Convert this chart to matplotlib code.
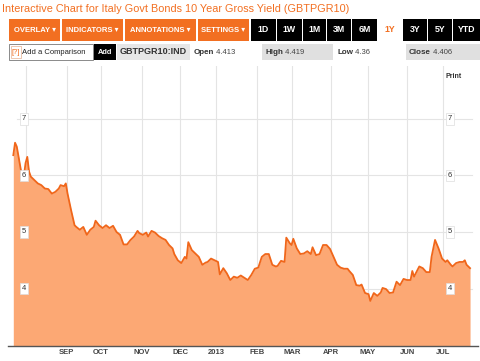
import matplotlib
matplotlib.use("Agg")
import matplotlib.pyplot as plt
from matplotlib.patches import Rectangle
from matplotlib.transforms import blended_transform_factory

plt.rcParams['font.family'] = ['Liberation Sans', 'DejaVu Sans']

# trading day (0 ~ 23 Jul 2012) and yield
days = [0, 1, 2, 4, 5, 6, 7, 8, 9, 10, 12, 14, 16, 18, 20, 22, 24, 26, 27, 29,
        30, 31, 33, 35, 36, 38, 40, 42, 44, 46, 47, 49, 51, 53, 55, 57,
        59, 61, 63, 65, 67, 69, 71, 72, 74, 76, 77, 79, 81, 83, 85, 87, 89, 91,
        92, 94, 96, 98, 99, 100, 102, 104, 106, 108, 110, 111, 113, 115, 117, 118,
        120, 122, 124, 126, 128, 130, 132, 134, 136, 138, 140, 142, 144, 146, 148,
        150, 151, 153, 155, 156, 158, 159, 160, 162, 164, 166, 168, 170, 171, 173,
        175, 177, 179, 181, 183, 185, 187, 189, 191, 192, 194, 196, 198, 199, 201,
        203, 204, 206, 208, 210, 211, 213, 215, 217, 219, 221, 223, 225, 227, 228,
        229, 231, 232, 234, 236, 238, 239, 240, 241, 243, 245, 247, 248, 250, 251,
        253, 255, 257, 258, 259, 261]
yields = [6.36, 6.58, 6.51, 6.16, 5.98, 5.98, 6.22, 6.33, 6.07, 5.98, 5.92, 5.86, 5.83, 5.77, 5.76, 5.68, 5.71, 5.77, 5.83, 5.81,
          5.86, 5.68, 5.39, 5.12, 5.09, 5.04, 5.09, 4.95, 5.04, 5.09, 5.20, 5.12, 5.07, 5.12, 5.07, 5.11,
          5.00, 4.95, 4.78, 4.78, 4.86, 4.92, 5.02, 4.98, 4.95, 4.99, 4.92, 5.02, 4.99, 4.93, 4.89, 4.86, 4.77, 4.71,
          4.61, 4.50, 4.45, 4.56, 4.53, 4.82, 4.68, 4.62, 4.56, 4.42, 4.46, 4.47, 4.53, 4.50, 4.47, 4.25,
          4.36, 4.27, 4.15, 4.21, 4.19, 4.23, 4.19, 4.15, 4.24, 4.35, 4.37, 4.56, 4.61, 4.61, 4.42,
          4.39, 4.40, 4.49, 4.47, 4.90, 4.80, 4.77, 4.88, 4.71, 4.61, 4.62, 4.66, 4.61, 4.73, 4.59,
          4.61, 4.77, 4.77, 4.70, 4.56, 4.42, 4.37, 4.35, 4.35, 4.31, 4.24, 4.06, 4.05, 4.07, 3.92,
          3.90, 3.78, 3.92, 3.87, 3.93, 4.01, 3.99, 3.92, 3.93, 4.12, 4.06, 4.17, 4.15, 4.15, 4.31,
          4.21, 4.33, 4.39, 4.36, 4.29, 4.29, 4.56, 4.71, 4.86, 4.71, 4.53, 4.47, 4.50, 4.42, 4.39,
          4.45, 4.47, 4.47, 4.50, 4.42, 4.36]

month_days = [7, 30.5, 50, 73.5, 95.5, 116, 139.5, 159.5, 181.5, 202.5, 225, 245.5]
month_labels = ['', 'SEP', 'OCT', 'NOV', 'DEC', '2013', 'FEB', 'MAR', 'APR', 'MAY', 'JUN', 'JUL']
y_ticks = [4, 5, 6, 7]

title = "Interactive Chart for Italy Govt Bonds 10 Year Gross Yield (GBTPGR10)"
menu_labels = ['OVERLAY \u25be', 'INDICATORS \u25be', 'ANNOTATIONS \u25be', 'SETTINGS \u25be']
range_labels = ['1D', '1W', '1M', '3M', '6M', '1Y', '3Y', '5Y', 'YTD']
active_range = '1Y'
ticker = 'GBTPGR10:IND'
quote_names = ['Open', 'High', 'Low', 'Close']
quote_values = ['4.413', '4.419', '4.36', '4.406']

ORANGE = '#F26F21'
LINE = '#F0661A'
FILL = '#FCA874'
GRID = '#e4e4e4'

W, H = 480, 361
fig = plt.figure(figsize=(W / 100, H / 100), dpi=100)

# ---- chart
ax = fig.add_axes([8 / W, (H - 346) / H, 470 / W, 280 / H])
ax.set_xlim((8 - 13.3) / 1.75, (478 - 13.3) / 1.75)
ax.set_ylim(4 - (346 - 288.5) / 56.5, 4 + (288.5 - 66) / 56.5)
ybot = ax.get_ylim()[0]

for d in month_days:
    ax.axvline(d, color=GRID, lw=0.8, zorder=0)
for t in y_ticks:
    ax.axhline(t, xmin=9 / 470, xmax=464 / 470, color=GRID, lw=0.8, zorder=0)

ax.fill_between(days, yields, ybot, color=FILL, lw=0, zorder=1)
ax.plot(days, yields, color=LINE, lw=1.3, zorder=2)

for s in ['top', 'left', 'right']:
    ax.spines[s].set_visible(False)
ax.spines['bottom'].set_color('#555555')
ax.spines['bottom'].set_linewidth(1)
ax.set_xticks([])
ax.set_yticks([])

tx = blended_transform_factory(ax.transData, ax.transAxes)
for d, lab in zip(month_days, month_labels):
    ax.text(d, -0.022, lab, transform=tx, ha='center', va='center',
            fontsize=5.5, fontweight='bold', color='#444444')

ty = blended_transform_factory(ax.transAxes, ax.transData)
box = dict(boxstyle='square,pad=0.3', fc='white', ec='#dddddd', lw=0.5)
for t in y_ticks:
    ax.text(16 / 470, t, str(t), transform=ty, ha='center', va='center',
            fontsize=5.5, color='#333333', bbox=box, zorder=3)
    ax.text(442 / 470, t, str(t), transform=ty, ha='center', va='center',
            fontsize=5.5, color='#333333', bbox=box, zorder=3)

# ---- header, drawn in pixel coords
ov = fig.add_axes([0, 0, 1, 1])
ov.set_xlim(0, W)
ov.set_ylim(H, 0)
ov.axis('off')

ov.text(2, 9, title, color=ORANGE, fontsize=7.8, ha='left', va='center')

menu_edges = [(9, 60), (62, 123), (125, 196), (198, 249)]
for (x0, x1), lab in zip(menu_edges, menu_labels):
    ov.add_patch(Rectangle((x0, 19), x1 - x0, 22, fc=ORANGE, ec='none'))
    ov.text((x0 + x1) / 2, 30, lab, color='white', fontsize=5.5, fontweight='bold',
            ha='center', va='center')

range_edges = [(251, 276), (277, 302), (303, 326), (327, 351), (352, 377),
               (377, 402), (403, 427), (428, 452), (453, 480)]
for (x0, x1), lab in zip(range_edges, range_labels):
    active = lab == active_range
    ov.add_patch(Rectangle((x0, 19), x1 - x0, 22, fc='white' if active else 'black', ec='none'))
    ov.text((x0 + x1) / 2, 30, lab, color=ORANGE if active else 'white', fontsize=6.3,
            fontweight='bold', ha='center', va='center')

# second row
ov.add_patch(Rectangle((9, 44), 84, 16, fc='white', ec='#777777', lw=0.6))
ov.add_patch(Rectangle((10.5, 46), 10, 12, fc='white', ec='#e8b090', lw=0.5))
ov.text(11.5, 52, '[?]', color=ORANGE, fontsize=5.5, ha='left', va='center')
ov.text(22, 52, 'Add a Comparison', color='#222222', fontsize=5.5, ha='left', va='center')
ov.add_patch(Rectangle((94, 44), 22, 16, fc='black', ec='none'))
ov.text(105, 52, 'Add', color='white', fontsize=5.3, fontweight='bold', ha='center', va='center')
ov.add_patch(Rectangle((117, 44), 73, 16, fc='#e6e6e6', ec='none'))
ov.text(153.5, 52, ticker, color='#333333', fontsize=6.5, fontweight='bold', ha='center', va='center')

quote_x = [194, 265, 337, 409]
quote_box = [None, (262, 333), None, (406, 480)]
for name, val, qx, qb in zip(quote_names, quote_values, quote_x, quote_box):
    if qb:
        ov.add_patch(Rectangle((qb[0], 44), qb[1] - qb[0], 16, fc='#e0e0e0', ec='none'))
    t = ov.text(qx, 52, name, color='#333333', fontsize=5.8, fontweight='bold', ha='left', va='center')
    ov.annotate(' ' + val, xycoords=t, xy=(1, 0.5), va='center', ha='left',
                fontsize=5.5, color='#444444')

ov.text(454, 77, 'Print', color='#333333', fontsize=5, fontweight='bold', ha='center', va='center')

fig.savefig('out.png', dpi=100)
